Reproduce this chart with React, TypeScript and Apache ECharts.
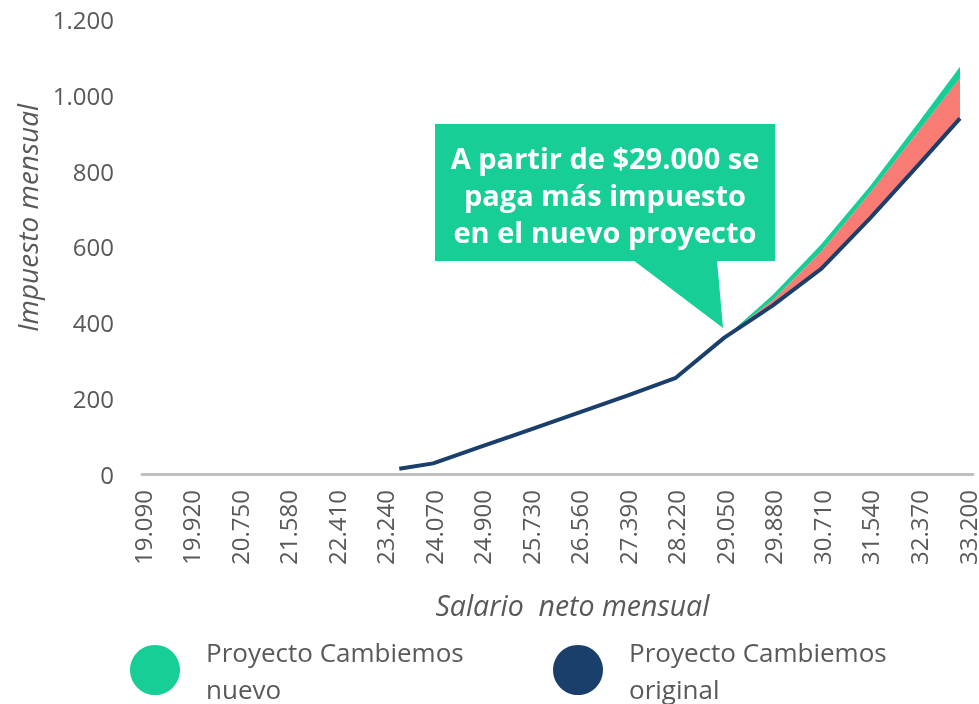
import React, { useEffect, useRef } from "react";
import * as echarts from "echarts";

// Salario neto mensual (x) where the curves were read
const salary = [23490, 24070, 24900, 25730, 26560, 27390, 28220, 29050, 29880, 30710, 31540, 32370, 33080];
// Impuesto mensual – Proyecto Cambiemos original
const original = [14, 28, 73, 117, 162, 207, 254, 360, 445, 542, 675, 816, 939];
// Upper edge of the red (difference) band
const redTop = [14, 28, 73, 117, 162, 207, 254, 360, 459, 588, 741, 905, 1045];
// Impuesto mensual – Proyecto Cambiemos nuevo
const nuevo = [14, 28, 73, 117, 162, 207, 254, 360, 473, 607, 760, 928, 1075];

const xMin = 19090;
const xMax = 33300;
const xStep = 830;
const yTicks = [0, 200, 400, 600, 800, 1000, 1200];

const seriesNames = ["Proyecto Cambiemos nuevo", "Proyecto Cambiemos original"];
const calloutLines = ["A partir de $29.000 se", "paga más impuesto", "en el nuevo proyecto"];
const yTitle = "Impuesto mensual";
const xTitle = "Salario  neto mensual";

const GREEN = "#17CE97";
const NAVY = "#1B3F6B";
const RED = "#F87B74";
const GRAY_TEXT = "#595959";
const FONT = '"Open Sans", "Noto Sans", sans-serif';

const fmt = (v: number) => String(Math.round(v)).replace(/\B(?=(\d{3})+(?!\d))/g, ".");

export default function App() {
  const ref = useRef<HTMLDivElement>(null);
  useEffect(() => {
    if (!ref.current) return;
    const chart = echarts.init(ref.current, null, { renderer: "svg" });
    // rows are [value, salary] so the stacked (first numeric) dimension is the y value
    const origData = salary.map((s, i) => [original[i], s]);
    const redData = salary.map((s, i) => [redTop[i] - original[i], s]);
    const greenData = salary.map((s, i) => [nuevo[i] - redTop[i], s]);
    const legendCommon = {
      top: 628,
      icon: "circle",
      itemWidth: 50,
      itemHeight: 50,
      selectedMode: false,
      formatter: (n: string) => n.replace("Cambiemos ", "Cambiemos\n"),
      textStyle: { fontSize: 26, lineHeight: 37, color: GRAY_TEXT, fontFamily: FONT, padding: [0, 0, 0, 21] },
    };
    chart.setOption({
      animation: false,
      textStyle: { fontFamily: FONT },
      grid: { left: 142, right: 4, top: 19.5, bottom: 230 },
      xAxis: {
        type: "value",
        min: xMin,
        max: xMax,
        interval: xStep,
        name: xTitle,
        nameLocation: "middle",
        nameGap: 116,
        nameTextStyle: { fontSize: 28.5, fontStyle: "italic", color: GRAY_TEXT, fontFamily: FONT, padding: [0, 0, 0, 30] },
        axisLine: { show: true, lineStyle: { color: "#BFBFBF", width: 3 } },
        axisTick: { show: false },
        splitLine: { show: false },
        axisLabel: {
          rotate: 90,
          margin: 16,
          fontSize: 24,
          color: GRAY_TEXT,
          fontFamily: FONT,
          showMaxLabel: false,
          showMinLabel: true,
          formatter: (v: number) => fmt(v),
        },
      },
      yAxis: {
        type: "value",
        min: yTicks[0],
        max: yTicks[yTicks.length - 1],
        interval: yTicks[1] - yTicks[0],
        axisLine: { show: false },
        axisTick: { show: false },
        splitLine: { show: false },
        axisLabel: { margin: 28, fontSize: 24, color: GRAY_TEXT, fontFamily: FONT, formatter: (v: number) => fmt(v) },
      },
      legend: [
        { ...legendCommon, left: 125, data: [{ name: seriesNames[0], itemStyle: { color: GREEN } }] },
        { ...legendCommon, left: 548, data: [{ name: seriesNames[1], itemStyle: { color: NAVY } }] },
      ],
      series: [
        {
          name: seriesNames[1],
          type: "line",
          stack: "tax",
          data: origData,
          encode: { x: 1, y: 0 },
          symbol: "none",
          color: NAVY,
          lineStyle: { color: NAVY, width: 4 },
          z: 5,
        },
        {
          name: "diferencia",
          type: "line",
          stack: "tax",
          data: redData,
          encode: { x: 1, y: 0 },
          symbol: "none",
          color: RED,
          lineStyle: { width: 0, opacity: 0 },
          areaStyle: { color: RED, opacity: 1 },
          z: 3,
        },
        {
          name: seriesNames[0],
          type: "line",
          stack: "tax",
          data: greenData,
          encode: { x: 1, y: 0 },
          symbol: "none",
          color: GREEN,
          lineStyle: { width: 0, opacity: 0 },
          areaStyle: { color: GREEN, opacity: 1 },
          z: 3,
        },
      ],
      graphic: [
        {
          type: "text",
          x: 27,
          y: 218,
          rotation: Math.PI / 2,
          style: {
            text: yTitle,
            align: "center",
            verticalAlign: "middle",
            fill: GRAY_TEXT,
            fontSize: 28,
            fontStyle: "italic",
            fontFamily: FONT,
          },
        },
        {
          type: "group",
          z: 100,
          children: [
            { type: "rect", shape: { x: 435, y: 124, width: 340, height: 137 }, style: { fill: GREEN } },
            { type: "polygon", shape: { points: [[633, 260], [717, 260], [723, 328]] }, style: { fill: GREEN } },
            {
              type: "text",
              x: 605,
              y: 194,
              style: {
                text: calloutLines.join("\n"),
                align: "center",
                verticalAlign: "middle",
                fill: "#FFFFFF",
                fontSize: 29,
                fontWeight: "bold",
                fontFamily: FONT,
                lineHeight: 37,
              },
            },
          ],
        },
      ],
    });
    return () => chart.dispose();
  }, []);
  return <div ref={ref} style={{ position: "fixed", left: 0, top: 0, width: 979, height: 704 }} />;
}
